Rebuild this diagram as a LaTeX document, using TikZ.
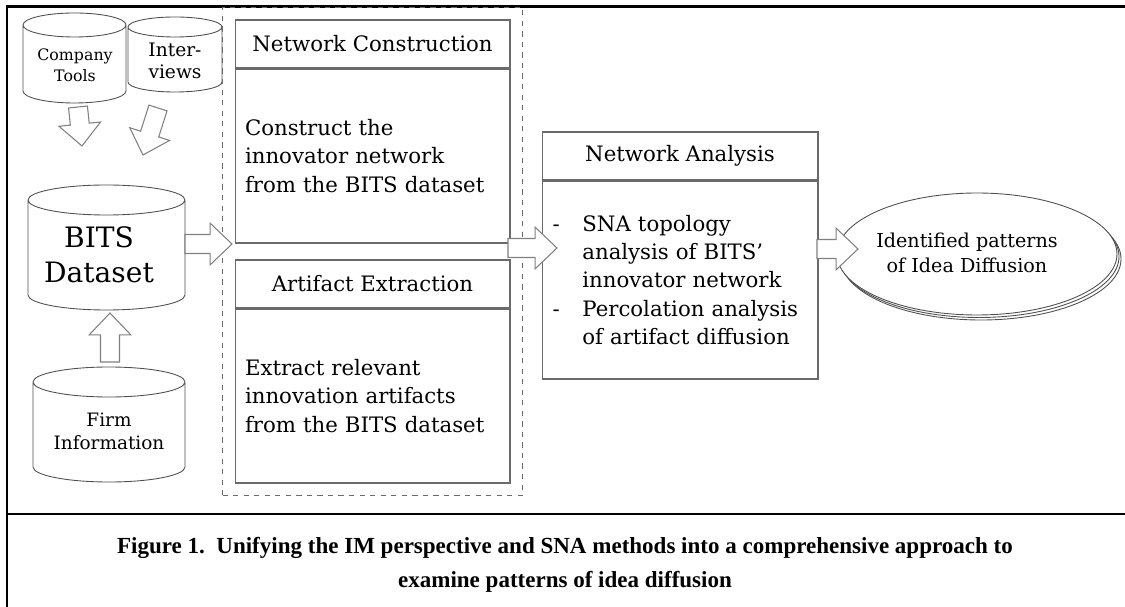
\documentclass[tikz,border=0pt]{standalone}
\usepackage{fontspec}
\setmainfont{DejaVu Serif}
\newfontfamily\capfont{Liberation Serif}
\usetikzlibrary{shapes.geometric,positioning,fit,calc}

\definecolor{boxgray}{HTML}{6A6A6A}
\definecolor{storegray}{HTML}{505050}
\definecolor{arrowgray}{HTML}{808080}

\newcommand\bodyfont{\fontsize{12.1}{16}\selectfont}

% data store drum: centre x, top y, width, bottom y, ellipse radius
\newcommand\drum[5]{%
  \draw[drumline] ({#1-#3/2},{#2+#5}) -- ({#1-#3/2},{#4-#5}) arc (180:0:{#3/2} and #5)
    -- ({#1+#3/2},{#2+#5}) arc (0:-180:{#3/2} and #5) arc (180:0:{#3/2} and #5);}

% hollow block arrow between two named points
\newcommand\fatarrow[2]{%
  \coordinate (hb) at ($(#2)!12.5pt!(#1)$);
  \draw[fatline] ($(#1)!5.4pt!90:(#2)$) -- ($(hb)!5.4pt!90:(#2)$) -- ($(hb)!11.9pt!90:(#2)$)
    -- (#2) -- ($(hb)!11.9pt!-90:(#2)$) -- ($(hb)!5.4pt!-90:(#2)$) -- ($(#1)!5.4pt!-90:(#2)$) -- cycle;}

\tikzset{
  box/.style={draw=boxgray, line width=0.6pt, minimum width=5.5cm, inner sep=0pt},
  head/.style={box, minimum height=0.96cm, font=\bodyfont},
  body/.style={box, font=\bodyfont, align=left, text width=5.1cm, inner xsep=0.2cm},
  label/.style={align=center, inner sep=0pt},
  drumline/.style={draw=storegray, fill=white, line width=0.5pt},
  fatline/.style={draw=arrowgray, fill=white, line width=0.6pt},
  frame/.style={line width=1.7pt},
}

\begin{document}
\begin{tikzpicture}[x=0.02cm, y=-0.02cm]
	\useasboundingbox (0,0) rectangle (1125,607);
	\draw[frame] (1125,7) -- (7,7) -- (7,607);
	\draw[frame] (7,514) -- (1125,514);

	% data sources
	\drum{74.5}{13}{103}{103}{12}
	\drum{175}{17}{94}{92}{10}
	\drum{106.5}{185}{157}{310}{15}
	\drum{109}{367}{152}{482}{15}
	\node[label, font=\fontsize{9}{11.9}\selectfont] (tools) at (75,65.5) {Company\\Tools};
	\node[label, font=\fontsize{10.6}{12.5}\selectfont] (intv) at (175,61) {Inter-\\views};
	\node[label, font=\fontsize{16}{19.8}\selectfont] (bits) at (99,254.5) {BITS\\Dataset};
	\node[label, font=\fontsize{10.5}{13}\selectfont] (firm) at (109,431.5) {Firm\\Information};

	% construction and extraction
	\node[head] (nctitle) at (372.5,44) {Network Construction};
	\node[body, minimum height=3.48cm, below=0pt of nctitle] (ncbody) {Construct the\\innovator network\\from the BITS dataset};
	\node[head] (aetitle) at (372.5,284) {Artifact Extraction};
	\node[body, minimum height=3.48cm, below=0pt of aetitle] (aebody) {Extract relevant\\innovation artifacts\\from the BITS dataset};
	\node[draw=boxgray, dashed, line width=0.4pt, fit=(nctitle)(aebody), inner sep=0.24cm] (group) {};

	% analysis
	\node[head, minimum width=5.52cm] (natitle) at (680,156) {Network Analysis};
	\node[body, minimum width=5.52cm, minimum height=3.96cm, below=0pt of natitle] (nabody)
		{\makebox[17pt][l]{-}SNA topology\\\hspace*{17pt}analysis of BITS’\\\hspace*{17pt}innovator network\\
		 \makebox[17pt][l]{-}Percolation analysis\\\hspace*{17pt}of artifact diffusion};

	% result
	\draw[drumline] (981,259) ellipse (140 and 61);
	\draw[drumline] (979,256.5) ellipse (140 and 61);
	\node[ellipse, draw=storegray, fill=white, line width=0.5pt, minimum width=5.6cm, minimum height=2.44cm] (ideas) at (977,254) {};
	\node[label, font=\fontsize{10.9}{14}\selectfont] (ideastext) at (967,253) {Identified patterns\\of Idea Diffusion};

	% block arrows
	\coordinate (t1) at (78,107);  \coordinate (t2) at (82,146);
	\coordinate (i1) at (158,108); \coordinate (i2) at (143,155);
	\coordinate (f1) at (110,362); \coordinate (f2) at (110,313);
	\coordinate (b1) at (185,244); \coordinate (b2) at (232,244);
	\coordinate (g1) at (508,248); \coordinate (g2) at (557,248);
	\coordinate (n1) at (817,249); \coordinate (n2) at (858,249);
	\fatarrow{t1}{t2}
	\fatarrow{i1}{i2}
	\fatarrow{f1}{f2}
	\fatarrow{b1}{b2}
	\fatarrow{g1}{g2}
	\fatarrow{n1}{n2}

	\node[font=\capfont\bfseries\fontsize{13.1}{19.3}\selectfont, align=center] (caption) at (565,565)
		{Figure 1.\ \ Unifying the IM perspective and SNA methods into a comprehensive approach to\\examine patterns of idea diffusion};
\end{tikzpicture}
\end{document}
